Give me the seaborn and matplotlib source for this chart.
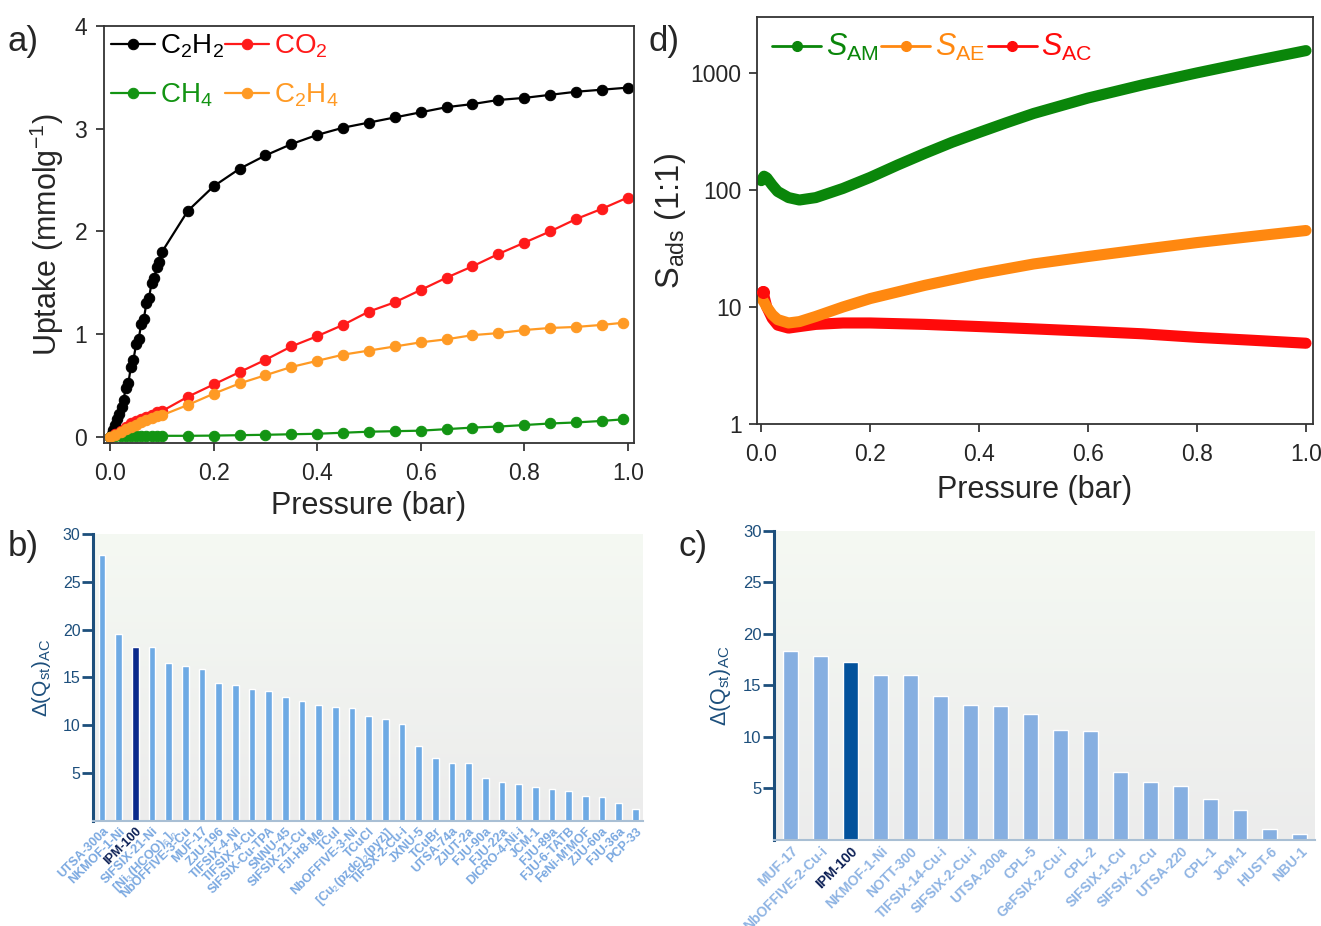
import numpy as np
import pandas as pd
import matplotlib
matplotlib.use("Agg")
import matplotlib.pyplot as plt
import seaborn as sns
from matplotlib.lines import Line2D
from matplotlib.colors import LinearSegmentedColormap

# ---------------- Panel a: isotherms ----------------
p_c2h2 = [0.0, 0.003, 0.006, 0.01, 0.014, 0.018, 0.022, 0.026, 0.03, 0.035, 0.04, 0.045, 0.05,
          0.055, 0.06, 0.065, 0.07, 0.075, 0.08, 0.085, 0.09, 0.095, 0.1, 0.15, 0.2, 0.25, 0.3,
          0.35, 0.4, 0.45, 0.5, 0.55, 0.6, 0.65, 0.7, 0.75, 0.8, 0.85, 0.9, 0.95, 1.0]
u_c2h2 = [0.0, 0.03, 0.07, 0.12, 0.17, 0.22, 0.29, 0.36, 0.48, 0.52, 0.68, 0.75, 0.9, 0.95,
          1.1, 1.15, 1.3, 1.35, 1.5, 1.55, 1.65, 1.7, 1.8, 2.2, 2.44, 2.61, 2.74, 2.85, 2.94,
          3.01, 3.06, 3.11, 3.16, 3.21, 3.24, 3.28, 3.30, 3.33, 3.36, 3.38, 3.40]
p_co2 = [0.0, 0.01, 0.02, 0.03, 0.04, 0.05, 0.06, 0.07, 0.08, 0.09, 0.1, 0.15, 0.2, 0.25, 0.3,
         0.35, 0.4, 0.45, 0.5, 0.55, 0.6, 0.65, 0.7, 0.75, 0.8, 0.85, 0.9, 0.95, 1.0]
u_co2 = [0.0, 0.03, 0.06, 0.1, 0.13, 0.15, 0.17, 0.19, 0.21, 0.24, 0.25, 0.39, 0.51, 0.63, 0.75,
         0.88, 0.98, 1.09, 1.22, 1.31, 1.43, 1.55, 1.66, 1.78, 1.89, 2.0, 2.12, 2.22, 2.33]
p_ch4 = [0.0, 0.01, 0.02, 0.03, 0.04, 0.05, 0.06, 0.07, 0.08, 0.09, 0.1, 0.15, 0.2, 0.25, 0.3,
         0.35, 0.4, 0.45, 0.5, 0.55, 0.6, 0.65, 0.7, 0.75, 0.8, 0.85, 0.9, 0.95, 0.99]
u_ch4 = [0.0, 0.004, 0.006, 0.007, 0.008, 0.008, 0.009, 0.009, 0.01, 0.01, 0.01, 0.01, 0.012,
         0.016, 0.02, 0.025, 0.03, 0.04, 0.05, 0.055, 0.06, 0.075, 0.09, 0.1, 0.115, 0.13, 0.14,
         0.155, 0.17]
p_c2h4 = [0.0, 0.01, 0.02, 0.03, 0.04, 0.05, 0.06, 0.07, 0.08, 0.09, 0.1, 0.15, 0.2, 0.25, 0.3,
          0.35, 0.4, 0.45, 0.5, 0.55, 0.6, 0.65, 0.7, 0.75, 0.8, 0.85, 0.9, 0.95, 0.99]
u_c2h4 = [0.0, 0.02, 0.05, 0.08, 0.1, 0.12, 0.14, 0.16, 0.18, 0.2, 0.21, 0.31, 0.42, 0.52, 0.6,
          0.68, 0.74, 0.8, 0.84, 0.88, 0.92, 0.95, 0.99, 1.01, 1.04, 1.06, 1.07, 1.09, 1.11]

# ---------------- Panel d: selectivities ----------------
p_am = [0.0, 0.005, 0.01, 0.02, 0.03, 0.05, 0.07, 0.1, 0.15, 0.2, 0.25, 0.3, 0.35, 0.4, 0.45,
        0.5, 0.6, 0.7, 0.8, 0.9, 1.0]
s_am = [120, 131, 127, 110, 97, 86, 82, 86, 103, 128, 163, 205, 255, 310, 375, 450, 610, 790,
        1000, 1250, 1550]
p_ae = [0.0, 0.005, 0.01, 0.02, 0.03, 0.05, 0.07, 0.1, 0.15, 0.2, 0.3, 0.4, 0.5, 0.6, 0.7,
        0.8, 0.9, 1.0]
s_ae = [12, 11, 10, 8.6, 7.8, 7.3, 7.5, 8.3, 10, 11.8, 15.3, 19.2, 23.3, 27, 31, 35.5, 40, 45]
p_ac = [0.003, 0.01, 0.02, 0.03, 0.05, 0.07, 0.1, 0.15, 0.2, 0.3, 0.4, 0.5, 0.6, 0.7, 0.8,
        0.9, 1.0]
s_ac = [13.5, 10, 8, 7, 6.6, 6.8, 7.1, 7.3, 7.3, 7.1, 6.8, 6.5, 6.2, 5.9, 5.5, 5.2, 4.9]

# ---------------- Panel b ----------------
mofs_b = ["UTSA-300a", "NKMOF-1-Ni", "IPM-100", "SIFSIX-21-Ni", r"[Ni$_3$(HCOO)$_6$]$_n$",
          "NbOFFIVE-3-Cu", "MUF-17", "ZJU-196", "TIFSIX-4-Ni", "TIFSIX-4-Cu", "SIFSIX-Cu-TPA",
          "SNNU-45", "SIFSIX-21-Cu", "FJI-H8-Me", "TCuI", "NbOFFIVE-3-Ni", "TCuCl",
          r"[Cu$_2$(pzdc)$_2$(pyz)]", "TIFSX-2-Cu-i", "JXNU-5", "TCuBr", "UTSA-74a", "ZJUT-2a",
          "FJU-90a", "FJU-22a", "DICRO-4-Ni-i", "JCM-1", "FJU-89a", "FJU-6-TATB", "FeNi-M'MOF",
          "ZJU-60a", "FJU-36a", "PCP-33"]
dq_b = [27.8, 19.5, 18.2, 18.2, 16.5, 16.2, 15.9, 14.4, 14.2, 13.8, 13.6, 13.0, 12.5, 12.1,
        11.9, 11.8, 11.0, 10.7, 10.1, 7.8, 6.6, 6.1, 6.1, 4.5, 4.1, 3.9, 3.6, 3.3, 3.1, 2.6,
        2.5, 1.9, 1.3]

# ---------------- Panel c ----------------
mofs_c = ["MUF-17", "NbOFFIVE-2-Cu-i", "IPM-100", "NKMOF-1-Ni", "NOTT-300", "TIFSIX-14-Cu-i",
          "SIFSIX-2-Cu-i", "UTSA-200a", "CPL-5", "GeFSIX-2-Cu-i", "CPL-2", "SIFSIX-1-Cu",
          "SIFSIX-2-Cu", "UTSA-220", "CPL-1", "JCM-1", "HUST-6", "NBU-1"]
dq_c = [18.3, 17.9, 17.3, 16.0, 16.0, 14.0, 13.1, 13.0, 12.2, 10.7, 10.6, 6.6, 5.6, 5.2,
        4.0, 2.9, 1.1, 0.6]

highlight = "IPM-100"

# ---------------- style ----------------
sns.set_style("ticks")
plt.rcParams["font.family"] = ["Liberation Sans", "DejaVu Sans"]
plt.rcParams["mathtext.fontset"] = "custom"
plt.rcParams["mathtext.rm"] = "Liberation Sans"
plt.rcParams["mathtext.it"] = "Liberation Sans:italic"
plt.rcParams["mathtext.bf"] = "Liberation Sans:bold"

fig = plt.figure(figsize=(13.21, 9.26), dpi=100)

# ---------- panel a ----------
axa = fig.add_axes([0.0787, 0.5216, 0.4012, 0.4503])
series_a = [
    (p_c2h2, u_c2h2, "black", r"C$_2$H$_2$"),
    (p_co2, u_co2, "#ff1a1a", r"CO$_2$"),
    (p_ch4, u_ch4, "#139413", r"CH$_4$"),
    (p_c2h4, u_c2h4, "#ff9a24", r"C$_2$H$_4$"),
]
for px, uy, col, lab in series_a:
    df = pd.DataFrame({"p": px, "u": uy})
    sns.lineplot(data=df, x="p", y="u", ax=axa, color=col, marker="o", markersize=7.5,
                 markeredgecolor=col, linewidth=1.6, sort=False, estimator=None, label=lab)
axa.set_xlim(-0.012, 1.012)
axa.set_ylim(-0.06, 4)
axa.set_xticks([0.0, 0.2, 0.4, 0.6, 0.8, 1.0])
axa.set_xticklabels(["0.0", "0.2", "0.4", "0.6", "0.8", "1.0"])
axa.set_yticks([0, 1, 2, 3, 4])
for sp in axa.spines.values():
    sp.set_visible(True)
    sp.set_linewidth(1.3)
    sp.set_color("#333333")
axa.tick_params(direction="out", length=6, width=1.2, labelsize=16.5)
axa.tick_params(axis="x", pad=8)
axa.tick_params(axis="y", pad=6)
axa.set_xlabel("Pressure (bar)", fontsize=22, labelpad=4)
axa.set_ylabel(r"Uptake (mmolg$^{-1}$)", fontsize=22, labelpad=6)
h, l = axa.get_legend_handles_labels()
order = [0, 2, 1, 3]
axa.legend([h[i] for i in order], [l[i] for i in order], ncol=2, loc="upper left",
           frameon=False, labelcolor="linecolor", fontsize=20, handlelength=1.6,
           handletextpad=0.15, columnspacing=0.05, borderaxespad=0.15, labelspacing=0.75,
           borderpad=0.1)

# ---------- panel d ----------
axd = fig.add_axes([0.573, 0.5421, 0.421, 0.4395])
series_d = [
    (p_am, s_am, "#0a860a", r"$S_{\mathrm{AM}}$"),
    (p_ae, s_ae, "#ff8810", r"$S_{\mathrm{AE}}$"),
    (p_ac, s_ac, "#ff0a0a", r"$S_{\mathrm{AC}}$"),
]
for px, sy, col, lab in series_d[::-1]:
    df = pd.DataFrame({"p": px, "s": sy})
    sns.lineplot(data=df, x="p", y="s", ax=axd, color=col, linewidth=8, sort=False,
                 estimator=None, solid_capstyle="round", solid_joinstyle="round")
axd.scatter([p_ac[0]], [s_ac[0]], s=70, color="#ff0a0a", zorder=5)
axd.set_yscale("log")
axd.set_xlim(-0.008, 1.013)
axd.set_ylim(1, 3000)
axd.set_xticks([0.0, 0.2, 0.4, 0.6, 0.8, 1.0])
axd.set_xticklabels(["0.0", "0.2", "0.4", "0.6", "0.8", "1.0"])
axd.set_yticks([1, 10, 100, 1000])
axd.set_yticklabels(["1", "10", "100", "1000"])
axd.yaxis.set_minor_locator(matplotlib.ticker.NullLocator())
for sp in axd.spines.values():
    sp.set_visible(True)
    sp.set_linewidth(1.3)
    sp.set_color("#333333")
axd.tick_params(direction="out", length=6, width=1.2, labelsize=16.5)
axd.tick_params(axis="x", pad=8)
axd.tick_params(axis="y", pad=5)
axd.set_xlabel("Pressure (bar)", fontsize=22, labelpad=6)
axd.set_ylabel(r"S$_{\mathrm{ads}}$ (1:1)", fontsize=23.5, labelpad=2)
handles_d = [Line2D([0], [0], color=c, lw=2, marker="o", markersize=7) for _, _, c, _ in series_d]
axd.legend(handles_d, [s[3] for s in series_d], ncol=3, loc="upper left", frameon=False,
           labelcolor="linecolor", fontsize=22, handlelength=1.6, handletextpad=0.15,
           columnspacing=0.1, borderaxespad=0.3, borderpad=0.2)

# ---------- bar panels ----------
bg_cmap = LinearSegmentedColormap.from_list("bg", ["#f5f9f3", "#ececec"])
grad = np.linspace(0, 1, 256).reshape(-1, 1)


def bar_panel(ax, names, vals, light, dark, tick_light, tick_dark, width, fs_tick, fs_lab,
              fs_y, xlim):
    df = pd.DataFrame({"mof": names, "dq": vals})
    pal = {n: (dark if n == highlight else light) for n in names}
    sns.barplot(data=df, x="mof", y="dq", hue="mof", palette=pal, legend=False, ax=ax,
                width=width, saturation=1, zorder=2)
    ax.imshow(grad, extent=[0, 1, 0, 1], transform=ax.transAxes, cmap=bg_cmap,
              aspect="auto", zorder=0)
    ax.set_xlim(*xlim)
    ax.set_ylim(0, 30)
    ax.set_yticks([5, 10, 15, 20, 25, 30])
    ax.set_xlabel("")
    ax.set_ylabel(r"$\Delta$(Q$_{\mathrm{st}}$)$_{\mathrm{AC}}$", fontsize=fs_lab,
                  color="#1d4f7c", labelpad=7)
    for s in ["top", "right"]:
        ax.spines[s].set_visible(False)
    ax.spines["left"].set_color("#1d4f7c")
    ax.spines["left"].set_linewidth(2.2)
    ax.spines["bottom"].set_color("#a9bfd4")
    ax.spines["bottom"].set_linewidth(1.5)
    ax.tick_params(axis="y", direction="out", length=8, width=2, color="#1d4f7c",
                   labelcolor="#1d4f7c", labelsize=fs_y, pad=1)
    ax.tick_params(axis="x", length=0, pad=3)
    ax.set_xticks(range(len(names)))
    ax.set_xticklabels(names, rotation=45, ha="right", rotation_mode="anchor",
                       fontsize=fs_tick, fontweight="bold")
    for t in ax.get_xticklabels():
        if t.get_text() == highlight:
            t.set_color(tick_dark)
        else:
            t.set_color(tick_light)


axb = fig.add_axes([0.0704, 0.1134, 0.4163, 0.31])
bar_panel(axb, mofs_b, dq_b, "#6eaae4", "#0b2a8c", "#7aa8e0", "#0b1f55", 0.4, 9, 15, 11.5,
          (-0.55, 32.45))

axc = fig.add_axes([0.5859, 0.0929, 0.4095, 0.3337])
bar_panel(axc, mofs_c, dq_c, "#86afe1", "#03529c", "#8fb4e3", "#0b1f55", 0.5, 10, 15.5, 12,
          (-0.55, 17.5))

# panel letters
fig.text(0.006, 0.955, "a)", fontsize=25, va="center")
fig.text(0.491, 0.955, "d)", fontsize=25, va="center")
fig.text(0.006, 0.41, "b)", fontsize=25, va="center")
fig.text(0.514, 0.41, "c)", fontsize=25, va="center")

fig.savefig("out.png", dpi=100)
